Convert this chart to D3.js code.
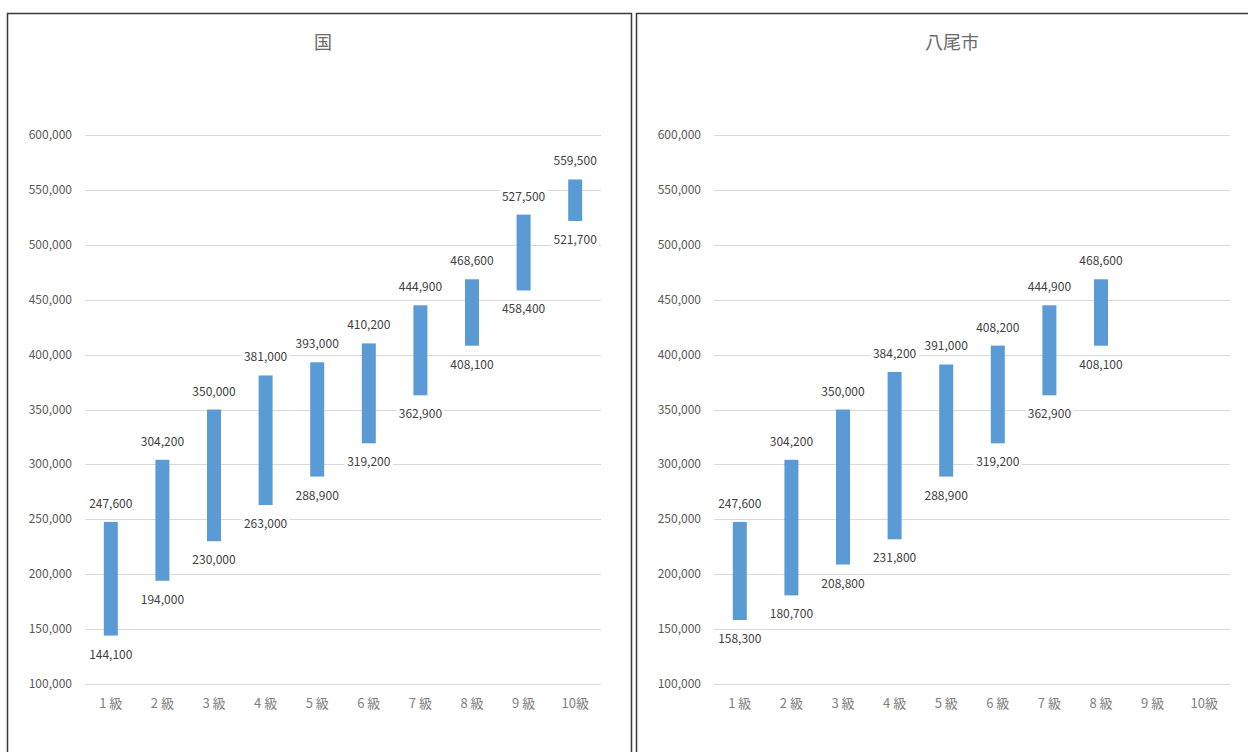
<!DOCTYPE html>
<html>
<head>
<meta charset="utf-8">
<script src="https://cdn.jsdelivr.net/npm/d3@7"></script>
<style>
  body { margin: 0; background: #fff; }
  text { font-family: "Noto Sans CJK JP", "Noto Sans", sans-serif; }
</style>
</head>
<body>
<svg id="canvas" width="1248" height="752"></svg>
<script>
// categories
let gradesKuni = ['1 級', '2 級', '3 級', '4 級', '5 級', '6 級', '7 級', '8 級', '9 級', '10級'];
let gradesYao = ['1 級', '2 級', '3 級', '4 級', '5 級', '6 級', '7 級', '8 級', '9 級', '10級'];

// 国 : low / high
let kuniLow = [144100, 194000, 230000, 263000, 288900, 319200, 362900, 408100, 458400, 521700];
let kuniHigh = [247600, 304200, 350000, 381000, 393000, 410200, 444900, 468600, 527500, 559500];

// 八尾市 : low / high (9級, 10級 no data)
let yaoLow = [158300, 180700, 208800, 231800, 288900, 319200, 362900, 408100];
let yaoHigh = [247600, 304200, 350000, 384200, 391000, 408200, 444900, 468600];

let yTicks = [100000, 150000, 200000, 250000, 300000, 350000, 400000, 450000, 500000, 550000, 600000];

let svg = d3.select('#canvas');
let fmt = d3.format(',');

let drawPanel = (px, title, grades, low, high) => {
    let g = svg.append('g').attr('transform', 'translate(' + px + ',0)');

    // frame
    g.append('rect')
        .attr('x', 0.5).attr('y', 13.5)
        .attr('width', 624).attr('height', 760)
        .attr('fill', '#fff')
        .attr('stroke', '#3a3a3a')
        .attr('stroke-width', 1.5);

    g.append('text')
        .attr('x', 316).attr('y', 49)
        .attr('text-anchor', 'middle')
        .attr('font-size', 18)
        .attr('fill', '#6a6a6a')
        .text(title);

    let x = d3.scaleBand().domain(grades).range([78, 594]);
    let y = d3.scaleLinear().domain([100000, 600000]).range([684, 135]);

    // gridlines
    g.selectAll('line.grid')
        .data(yTicks)
        .enter()
        .append('line')
        .attr('class', 'grid')
        .attr('x1', 78).attr('x2', 594)
        .attr('y1', d => Math.round(y(d)) + 0.5)
        .attr('y2', d => Math.round(y(d)) + 0.5)
        .attr('stroke', '#d9d9d9')
        .attr('stroke-width', 1);

    // y labels
    g.selectAll('text.ytick')
        .data(yTicks)
        .enter()
        .append('text')
        .attr('class', 'ytick')
        .attr('x', 65)
        .attr('y', d => y(d) + 4)
        .attr('text-anchor', 'end')
        .attr('font-size', 12)
        .attr('fill', '#595959')
        .text(d => fmt(d));

    // x labels
    g.selectAll('text.xtick')
        .data(grades)
        .enter()
        .append('text')
        .attr('class', 'xtick')
        .attr('x', d => x(d) + x.bandwidth() / 2)
        .attr('y', 708)
        .attr('text-anchor', 'middle')
        .attr('font-size', 13)
        .attr('fill', '#7f7f7f')
        .text(d => d);

    let rows = low.map((v, i) => ({ grade: grades[i], low: v, high: high[i] }));

    g.selectAll('rect.bar')
        .data(rows)
        .enter()
        .append('rect')
        .attr('class', 'bar')
        .attr('x', d => x(d.grade) + x.bandwidth() / 2 - 7)
        .attr('width', 14)
        .attr('y', d => y(d.high))
        .attr('height', d => y(d.low) - y(d.high))
        .attr('fill', '#5b9bd5');

    // data labels with white backing
    let addLabel = (cx, cy, txt) => {
        g.append('rect')
            .attr('x', cx - 24).attr('y', cy - 8)
            .attr('width', 48).attr('height', 16)
            .attr('fill', '#fff');
        g.append('text')
            .attr('x', cx).attr('y', cy + 4)
            .attr('text-anchor', 'middle')
            .attr('font-size', 12)
            .attr('fill', '#404040')
            .text(txt);
    };

    rows.forEach(d => {
        let cx = x(d.grade) + x.bandwidth() / 2;
        addLabel(cx, y(d.high) - 18, fmt(d.high));
        addLabel(cx, y(d.low) + 19, fmt(d.low));
    });
};

drawPanel(7, '国', gradesKuni, kuniLow, kuniHigh);
drawPanel(636, '八尾市', gradesYao, yaoLow, yaoHigh);
</script>
</body>
</html>
